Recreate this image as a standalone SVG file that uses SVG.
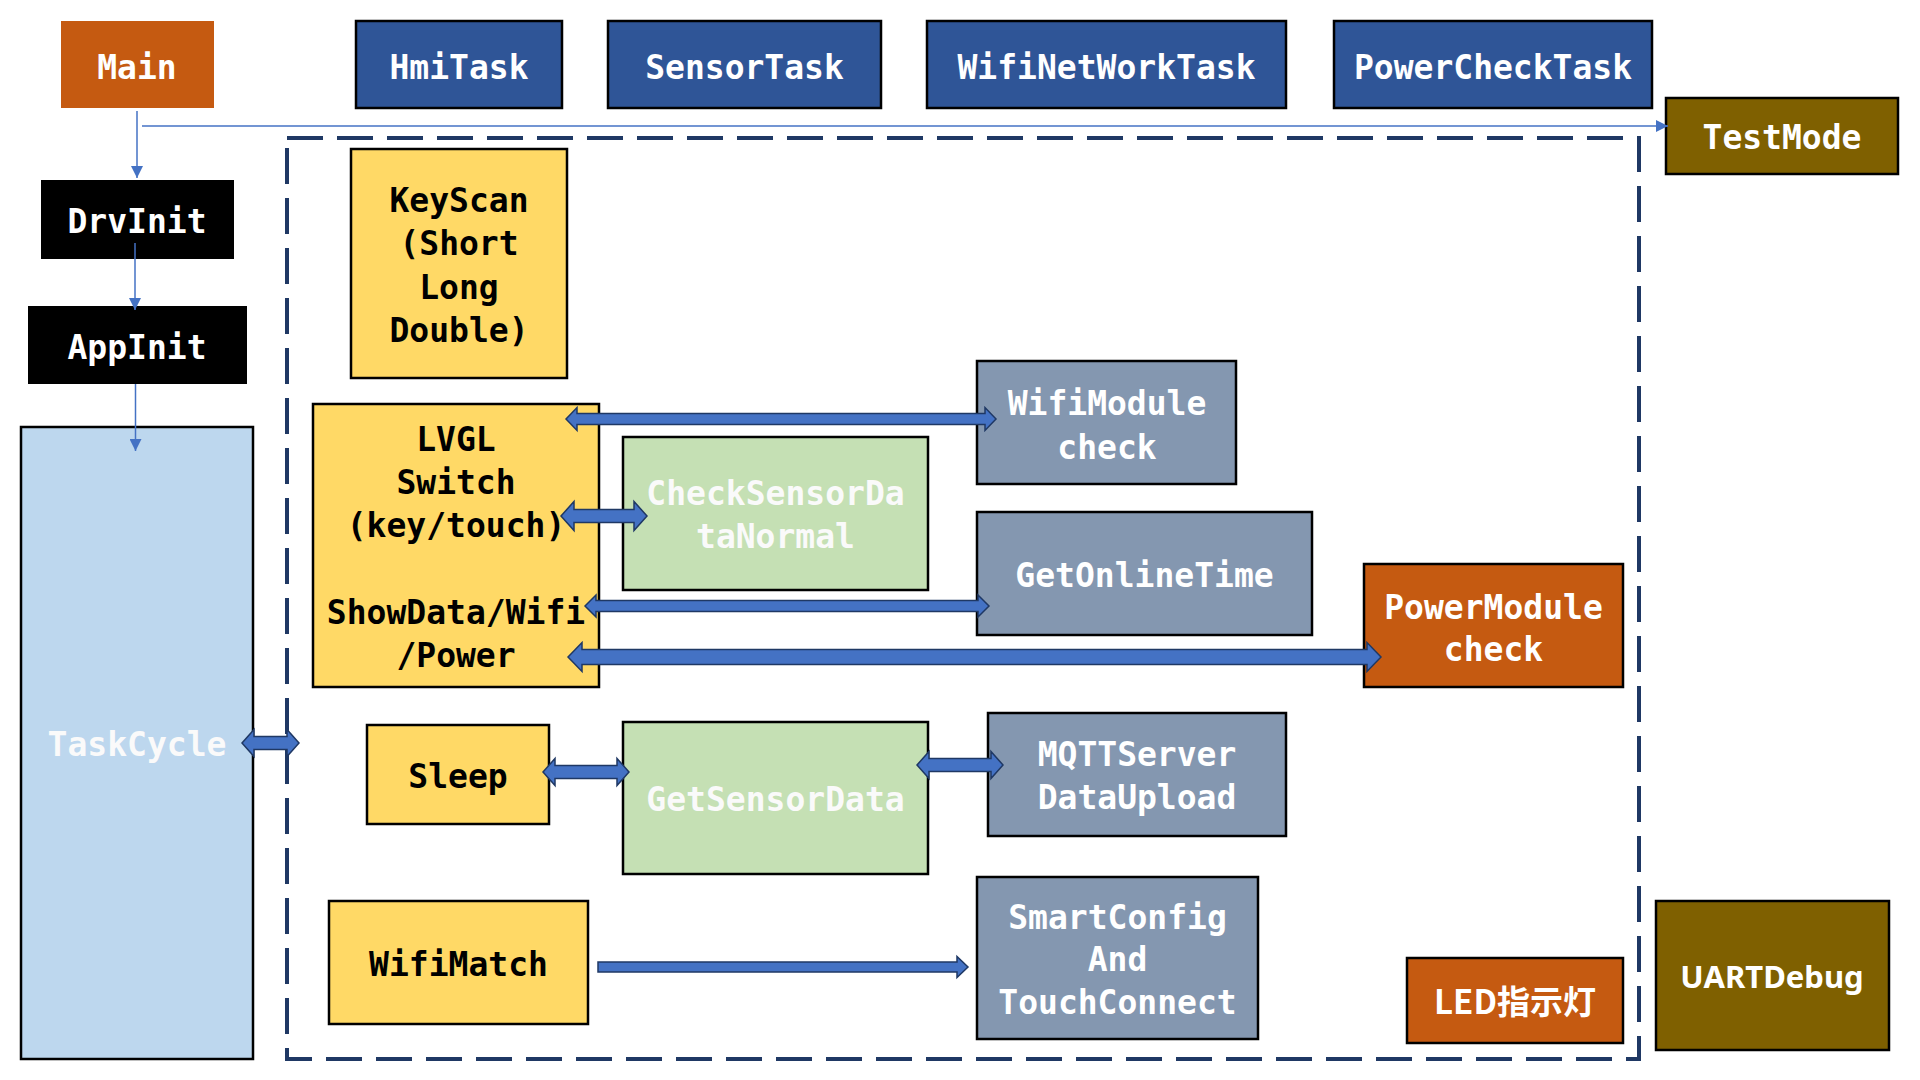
<svg xmlns="http://www.w3.org/2000/svg" width="1920" height="1080" viewBox="0 0 1920 1080">
<defs>
<style>
.b{stroke:#000;stroke-width:2.5}
.t{font-family:"DejaVu Sans Mono","Liberation Mono",monospace;font-weight:bold;font-size:33px;text-anchor:middle}
.w{fill:#FFFFFF}
.k{fill:#000000}
.lw{fill:#FAFAFA}
.orange{fill:#C55A11}
.blue{fill:#2F5597}
.olive{fill:#7F6000}
.yel{fill:#FFD966}
.grn{fill:#C5E0B4}
.gray{fill:#8497B0}
.lb{fill:#BDD7EE}
.thin{stroke:#4472C4;stroke-width:1.5;fill:none}
.blk{fill:#4472C4;stroke:#1F3864;stroke-width:1.5;stroke-linejoin:miter}
</style>
<marker id="ah" markerUnits="userSpaceOnUse" markerWidth="12" markerHeight="12" viewBox="0 0 12 12" refX="12" refY="6" orient="auto">
<path d="M0,0 L12,6 L0,12 Z" fill="#4472C4"/>
</marker>
</defs>
<rect width="1920" height="1080" fill="#FFFFFF"/>

<g id="container">
<rect x="287" y="138" width="1352" height="921" fill="none" stroke="#1F3864" stroke-width="4" stroke-dasharray="36 14"/>
</g>

<g id="main"><rect x="61" y="21" width="153" height="87" class="orange"/><text x="137" y="78.5" class="t w">Main</text></g>
<g id="hmitask"><rect x="356" y="21" width="206" height="87" class="blue b"/><text x="459" y="78.5" class="t w">HmiTask</text></g>
<g id="sensortask"><rect x="608" y="21" width="273" height="87" class="blue b"/><text x="744.5" y="78.5" class="t w">SensorTask</text></g>
<g id="wifinetworktask"><rect x="927" y="21" width="359" height="87" class="blue b"/><text x="1106.5" y="78.5" class="t w">WifiNetWorkTask</text></g>
<g id="powerchecktask"><rect x="1334" y="21" width="318" height="87" class="blue b"/><text x="1493" y="78.5" class="t w">PowerCheckTask</text></g>
<g id="testmode"><rect x="1666" y="98" width="232" height="76" class="olive b"/><text x="1782" y="148.5" class="t w">TestMode</text></g>
<g id="drvinit"><rect x="41" y="180" width="193" height="79" fill="#000"/><text x="137" y="232.5" class="t w">DrvInit</text></g>
<g id="appinit"><rect x="28" y="306" width="219" height="78" fill="#000"/><text x="137" y="358.5" class="t w">AppInit</text></g>
<g id="taskcycle"><rect x="21" y="427" width="232" height="632" class="lb b"/><text x="137" y="755.5" class="t lw">TaskCycle</text></g>

<g id="keyscan"><rect x="351" y="149" width="216" height="229" class="yel b"/>
<text class="t k"><tspan x="459" y="211.5">KeyScan</tspan><tspan x="459" y="255">(Short</tspan><tspan x="459" y="298.5">Long</tspan><tspan x="459" y="342">Double)</tspan></text></g>

<g id="lvgl"><rect x="313" y="404" width="286" height="283" class="yel b"/>
<text class="t k"><tspan x="456" y="450.5">LVGL</tspan><tspan x="456" y="494">Switch</tspan><tspan x="456" y="537">(key/touch)</tspan><tspan x="456" y="623.5">ShowData/Wifi</tspan><tspan x="456" y="667">/Power</tspan></text></g>

<g id="checksensordatanormal"><rect x="623" y="437" width="305" height="153" class="grn b"/>
<text class="t lw"><tspan x="775.5" y="504.5">CheckSensorDa</tspan><tspan x="775.5" y="547.5">taNormal</tspan></text></g>

<g id="wifimodule"><rect x="977" y="361" width="259" height="123" class="gray b"/>
<text class="t w"><tspan x="1107" y="414.5">WifiModule</tspan><tspan x="1107" y="458.5">check</tspan></text></g>

<g id="getonlinetime"><rect x="977" y="512" width="335" height="123" class="gray b"/><text x="1144.5" y="586.5" class="t w">GetOnlineTime</text></g>

<g id="powermodule"><rect x="1364" y="564" width="259" height="123" class="orange b"/>
<text class="t w"><tspan x="1493.5" y="618.5">PowerModule</tspan><tspan x="1493.5" y="660.5">check</tspan></text></g>

<g id="sleep"><rect x="367" y="725" width="182" height="99" class="yel b"/><text x="458" y="787.5" class="t k">Sleep</text></g>
<g id="getsensordata"><rect x="623" y="722" width="305" height="152" class="grn b"/><text x="775.5" y="810.5" class="t lw">GetSensorData</text></g>

<g id="mqttserver"><rect x="988" y="713" width="298" height="123" class="gray b"/>
<text class="t w"><tspan x="1137" y="765.5">MQTTServer</tspan><tspan x="1137" y="808.5">DataUpload</tspan></text></g>

<g id="wifimatch"><rect x="329" y="901" width="259" height="123" class="yel b"/><text x="458.5" y="975.5" class="t k">WifiMatch</text></g>

<g id="smartconfig"><rect x="977" y="877" width="281" height="162" class="gray b"/>
<text class="t w"><tspan x="1117.5" y="928.5">SmartConfig</tspan><tspan x="1117.5" y="970.5">And</tspan><tspan x="1117.5" y="1013.5">TouchConnect</tspan></text></g>

<g id="led"><rect x="1407" y="958" width="216" height="85" class="orange b"/>
<text x="1515" y="1014" font-family="'Noto Sans CJK SC','Noto Sans',sans-serif" font-weight="bold" font-size="33" text-anchor="middle" fill="#FFFFFF">LED指示灯</text></g>

<g id="uartdebug"><rect x="1656" y="901" width="233" height="149" class="olive b"/>
<text x="1772" y="987.5" font-family="'Noto Sans','Liberation Sans',sans-serif" font-weight="bold" font-size="31" text-anchor="middle" fill="#FFFFFF">UARTDebug</text></g>

<g id="connectors">
<line x1="137" y1="111" x2="137" y2="178" class="thin" marker-end="url(#ah)"/>
<line x1="135" y1="243" x2="135" y2="310" class="thin" marker-end="url(#ah)"/>
<line x1="135.5" y1="384" x2="135.5" y2="451" class="thin" marker-end="url(#ah)"/>
<line x1="142" y1="126" x2="1668" y2="126" class="thin" marker-end="url(#ah)"/>

<path class="blk" d="M566,419 L577,407.5 L577,413.5 L985,413.5 L985,407.5 L996,419 L985,430.5 L985,424.5 L577,424.5 L577,430.5 Z"/>
<path class="blk" d="M561,516 L574,501.5 L574,509.5 L634,509.5 L634,501.5 L647,516 L634,530.5 L634,522.5 L574,522.5 L574,530.5 Z"/>
<path class="blk" d="M585,606 L596,595 L596,600.5 L978,600.5 L978,595 L989,606 L978,617 L978,611.5 L596,611.5 L596,617 Z"/>
<path class="blk" d="M568,657 L582,642.5 L582,649.5 L1367,649.5 L1367,642.5 L1381,657 L1367,671.5 L1367,664.5 L582,664.5 L582,671.5 Z"/>
<path class="blk" d="M242,743 L254,729.5 L254,736.5 L287,736.5 L287,729.5 L299,743 L287,756.5 L287,749.5 L254,749.5 L254,756.5 Z"/>
<path class="blk" d="M543,772 L555,758.5 L555,765.5 L617,765.5 L617,758.5 L629,772 L617,785.5 L617,778.5 L555,778.5 L555,785.5 Z"/>
<path class="blk" d="M917,765 L929,751.5 L929,758.5 L991,758.5 L991,751.5 L1003,765 L991,778.5 L991,771.5 L929,771.5 L929,778.5 Z"/>
<path class="blk" d="M598,962 L957,962 L957,956.5 L968,967 L957,977.5 L957,972 L598,972 Z"/>
</g>
</svg>
